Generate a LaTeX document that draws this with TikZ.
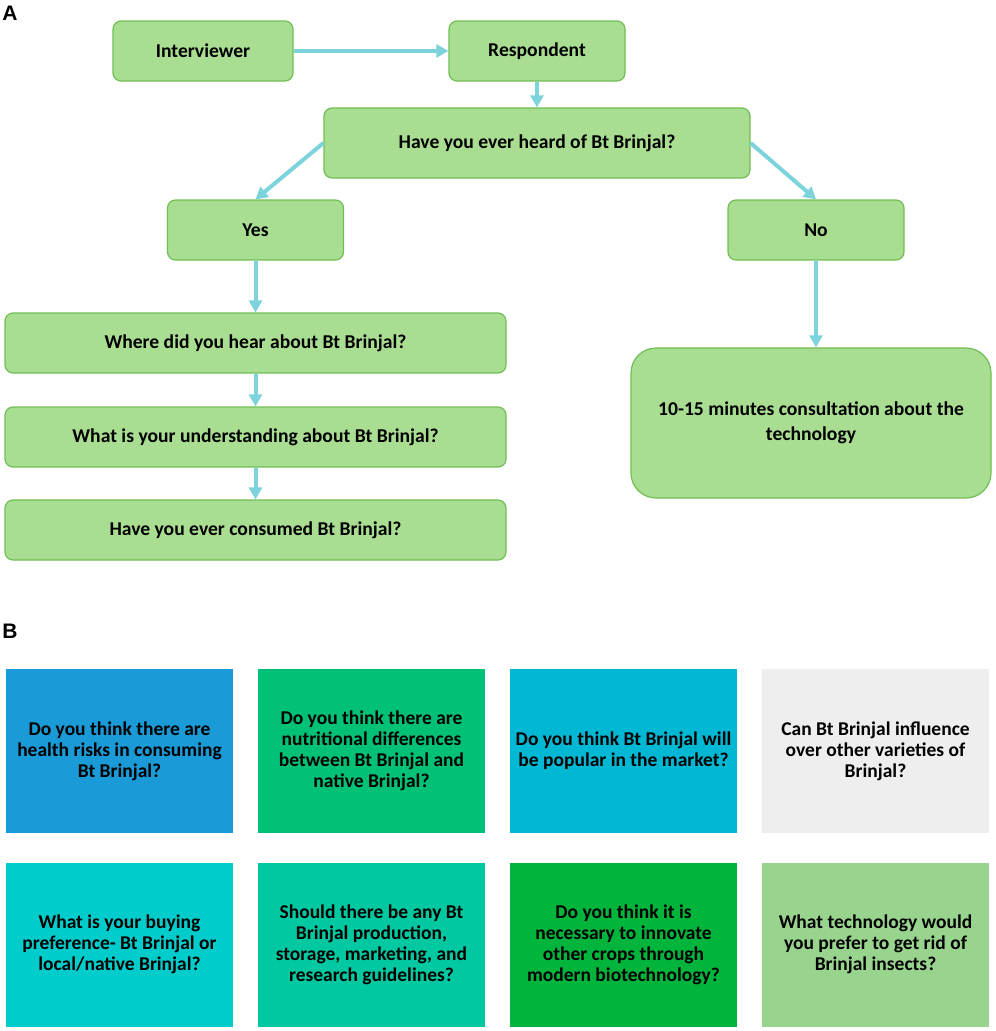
\documentclass[tikz,border=0pt]{standalone}
\usepackage{fontspec}
\setmainfont{Carlito}
\newfontfamily\panelfont{Liberation Sans}
\usetikzlibrary{arrows.meta}
\definecolor{boxGreen}{RGB}{169,222,146}
\definecolor{boxEdge}{RGB}{112,190,84}
\definecolor{arrowCyan}{RGB}{124,211,220}
\definecolor{qBlue}{RGB}{26,155,215}
\definecolor{qGreen}{RGB}{0,193,118}
\definecolor{qCyan}{RGB}{0,184,212}
\definecolor{qGrey}{RGB}{238,238,238}
\definecolor{qTeal}{RGB}{0,204,204}
\definecolor{qSea}{RGB}{0,200,160}
\definecolor{qLeaf}{RGB}{0,180,60}
\definecolor{qPale}{RGB}{153,212,142}

\begin{document}
\begin{tikzpicture}[x=1pt,y=-1pt,
  flowbox/.style={draw=boxEdge,fill=boxGreen,line width=1.2pt,rounded corners=8pt,
    inner sep=0pt,align=center,font=\fontsize{19.6}{25}\selectfont\bfseries},
  qbox/.style={fill=#1,minimum width=227pt,minimum height=164pt,inner sep=0pt,
    align=center,font=\fontsize{19.5}{21}\selectfont\bfseries},
  flowarrow/.style={draw=arrowCyan,line width=4pt,-{Triangle[length=12pt,width=13pt]}},
  panel/.style={font=\panelfont\fontsize{21}{21}\selectfont\bfseries,inner sep=0pt}]
\useasboundingbox (0,0) rectangle (996,1031);
% panel A
\node[panel] (labelA) at (10,13) {A};
\node[flowbox,minimum width=180pt,minimum height=60pt] (interviewer) at (203,51) {Interviewer};
\node[flowbox,minimum width=176pt,minimum height=60pt] (respondent) at (537,51) {Respondent};
\node[flowbox,minimum width=426pt,minimum height=70pt] (heard) at (537,143) {Have you ever heard of Bt Brinjal?};
\node[flowbox,minimum width=176pt,minimum height=60pt] (yes) at (255.5,230) {Yes};
\node[flowbox,minimum width=176pt,minimum height=60pt] (no) at (816,230) {No};
\node[flowbox,minimum width=501pt,minimum height=60pt] (where) at (255.5,343) {Where did you hear about Bt Brinjal?};
\node[flowbox,minimum width=501pt,minimum height=60pt] (understand) at (255.5,437) {What is your understanding about Bt Brinjal?};
\node[flowbox,minimum width=501pt,minimum height=60pt] (consumed) at (255.5,530) {Have you ever consumed Bt Brinjal?};
\node[flowbox,rounded corners=25pt,minimum width=360pt,minimum height=150pt] (consult) at (811,423) {10-15 minutes consultation about the\\technology};
\draw[flowarrow] (interviewer.east) -- (respondent.west);
\draw[flowarrow] (respondent.south) -- (heard.north);
\draw[flowarrow] (heard.west) -- (yes.north);
\draw[flowarrow] (heard.east) -- (no.north);
\draw[flowarrow] (yes.south) -- (where.north);
\draw[flowarrow] (where.south) -- (understand.north);
\draw[flowarrow] (understand.south) -- (consumed.north);
\draw[flowarrow] (no.south) -- (no.south |- consult.north);
% panel B
\node[panel] (labelB) at (10,631) {B};
\node[qbox=qBlue] (healthRisk) at (119.5,751) {Do you think there are\\health risks in consuming\\Bt Brinjal?};
\node[qbox=qGreen] (nutrition) at (371.5,751) {Do you think there are\\nutritional differences\\between Bt Brinjal and\\native Brinjal?};
\node[qbox=qCyan] (market) at (623.5,751) {Do you think Bt Brinjal will\\be popular in the market?};
\node[qbox=qGrey] (varieties) at (875.5,751) {Can Bt Brinjal influence\\over other varieties of\\Brinjal?};
\node[qbox=qTeal] (buying) at (119.5,944.5) {What is your buying\\preference- Bt Brinjal or\\local/native Brinjal?};
\node[qbox=qSea] (guidelines) at (371.5,944.5) {Should there be any Bt\\Brinjal production,\\storage, marketing, and\\research guidelines?};
\node[qbox=qLeaf] (innovate) at (623.5,944.5) {Do you think it is\\necessary to innovate\\other crops through\\modern biotechnology?};
\node[qbox=qPale] (insects) at (875.5,944.5) {What technology would\\you prefer to get rid of\\Brinjal insects?};
\end{tikzpicture}
\end{document}
